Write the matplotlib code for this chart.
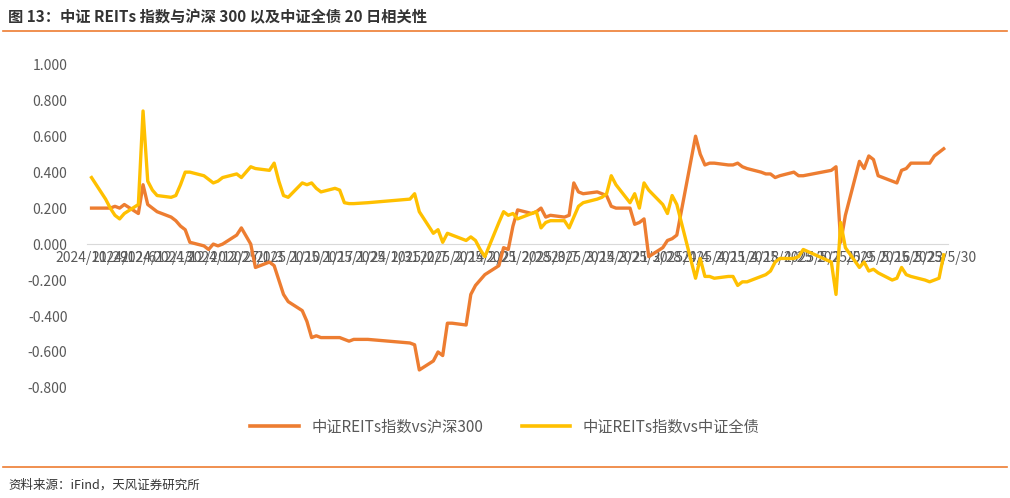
import matplotlib
matplotlib.use("Agg")
import matplotlib.pyplot as plt
import matplotlib.dates as mdates
import pandas as pd
from matplotlib.lines import Line2D

plt.rcParams['font.family'] = ['Noto Sans CJK SC', 'DejaVu Sans']

dates = ["2024-11-29","2024-12-02","2024-12-03","2024-12-04","2024-12-05","2024-12-06","2024-12-09","2024-12-10",
"2024-12-11","2024-12-12","2024-12-13","2024-12-16","2024-12-17","2024-12-18","2024-12-19","2024-12-20",
"2024-12-23","2024-12-24","2024-12-25","2024-12-26","2024-12-27","2024-12-30","2024-12-31",
"2025-01-02","2025-01-03","2025-01-06","2025-01-07","2025-01-08","2025-01-09","2025-01-10",
"2025-01-13","2025-01-14","2025-01-15","2025-01-16","2025-01-17","2025-01-20","2025-01-21","2025-01-22","2025-01-23","2025-01-24",
"2025-01-27","2025-02-05","2025-02-06","2025-02-07","2025-02-10","2025-02-11","2025-02-12","2025-02-13","2025-02-14",
"2025-02-17","2025-02-18","2025-02-19","2025-02-20","2025-02-21","2025-02-24","2025-02-25","2025-02-26","2025-02-27","2025-02-28",
"2025-03-03","2025-03-04","2025-03-05","2025-03-06","2025-03-07","2025-03-10","2025-03-11","2025-03-12","2025-03-13","2025-03-14",
"2025-03-17","2025-03-18","2025-03-19","2025-03-20","2025-03-21","2025-03-24","2025-03-25","2025-03-26","2025-03-27","2025-03-28",
"2025-03-31","2025-04-01","2025-04-02","2025-04-03","2025-04-07","2025-04-08","2025-04-09","2025-04-10","2025-04-11",
"2025-04-14","2025-04-15","2025-04-16","2025-04-17","2025-04-18","2025-04-21","2025-04-22","2025-04-23","2025-04-24","2025-04-25",
"2025-04-28","2025-04-29","2025-04-30","2025-05-06","2025-05-07","2025-05-08","2025-05-09",
"2025-05-12","2025-05-13","2025-05-14","2025-05-15","2025-05-16","2025-05-19","2025-05-20","2025-05-21","2025-05-22","2025-05-23",
"2025-05-26","2025-05-27","2025-05-28","2025-05-29","2025-05-30"]

reits_vs_hs300 = [0.20,0.20,0.20,0.21,0.20,0.22,0.17,0.33,
0.22,0.20,0.18,0.15,0.13,0.10,0.08,0.01,
-0.01,-0.03,0.00,-0.01,0.00,0.05,0.09,
0.00,-0.13,-0.10,-0.12,-0.20,-0.28,-0.32,
-0.37,-0.43,-0.52,-0.51,-0.52,-0.52,-0.52,-0.53,-0.54,-0.53,
-0.53,-0.55,-0.56,-0.70,-0.65,-0.60,-0.62,-0.44,-0.44,
-0.45,-0.28,-0.23,-0.20,-0.17,-0.12,-0.02,-0.03,0.10,0.19,
0.17,0.18,0.20,0.15,0.16,0.15,0.16,0.34,0.29,0.28,
0.29,0.28,0.27,0.21,0.20,0.20,0.11,0.12,0.14,-0.07,
-0.02,0.02,0.03,0.05,0.60,0.50,0.44,0.45,0.45,
0.44,0.44,0.45,0.43,0.42,0.40,0.39,0.39,0.37,0.38,
0.40,0.38,0.38,0.41,0.43,0.01,0.16,
0.46,0.42,0.49,0.47,0.38,0.35,0.34,0.41,0.42,0.45,
0.45,0.45,0.49,0.51,0.53]

reits_vs_bond = [0.37,0.25,0.20,0.16,0.14,0.17,0.22,0.74,
0.35,0.30,0.27,0.26,0.27,0.33,0.40,0.40,
0.38,0.36,0.34,0.35,0.37,0.39,0.37,
0.43,0.42,0.41,0.45,0.35,0.27,0.26,
0.34,0.33,0.34,0.31,0.29,0.31,0.30,0.23,0.225,0.225,
0.23,0.25,0.28,0.18,0.06,0.08,0.01,0.06,0.05,
0.02,0.04,0.02,-0.03,-0.07,0.12,0.18,0.16,0.17,0.14,
0.17,0.18,0.09,0.12,0.13,0.13,0.09,0.15,0.21,0.23,
0.25,0.26,0.28,0.38,0.33,0.23,0.28,0.20,0.34,0.30,
0.22,0.17,0.27,0.22,-0.19,-0.08,-0.18,-0.18,-0.19,
-0.18,-0.18,-0.23,-0.21,-0.21,-0.18,-0.17,-0.15,-0.10,-0.08,
-0.08,-0.07,-0.03,-0.10,-0.28,0.12,-0.02,
-0.13,-0.10,-0.15,-0.14,-0.16,-0.20,-0.19,-0.13,-0.17,-0.18,
-0.20,-0.21,-0.20,-0.19,-0.06]

series_names = ["中证REITs指数vs沪深300", "中证REITs指数vs中证全债"]
tick_dates = pd.date_range("2024-11-29", "2025-05-30", freq="7D")
y_ticks = [1.0, 0.8, 0.6, 0.4, 0.2, 0.0, -0.2, -0.4, -0.6, -0.8]

x = pd.to_datetime(dates)
fig = plt.figure(figsize=(10.10, 4.98), dpi=100)
ax = fig.add_axes([0.086, 0.221, 0.853, 0.650])
c1, c2 = "#ED7D31", "#FFC000"
ax.plot(x, reits_vs_hs300, color=c1, lw=2.4, solid_joinstyle="round", zorder=3)
ax.plot(x, reits_vs_bond, color=c2, lw=2.4, solid_joinstyle="round", zorder=3)

ax.set_ylim(-0.8, 1.0)
ax.set_xlim(tick_dates[0] - pd.Timedelta(days=1), tick_dates[-1] + pd.Timedelta(days=1))
ax.set_yticks(y_ticks)
ax.set_yticklabels([f"{v:.3f}" for v in y_ticks])
ax.set_xticks(tick_dates)
ax.set_xticklabels([f"{d.year}/{d.month}/{d.day}" for d in tick_dates], rotation=90)
for s in ["top", "right", "left"]:
    ax.spines[s].set_visible(False)
ax.spines["bottom"].set_position(("data", 0))
ax.spines["bottom"].set_color("#D9D9D9")
ax.tick_params(axis="both", length=0, colors="#595959", labelsize=10)
ax.tick_params(axis="y", pad=14)
ax.tick_params(axis="x", pad=5)

handles = [Line2D([], [], color=c1, lw=2.6), Line2D([], [], color=c2, lw=2.6)]
fig.legend(handles, series_names, loc="center", bbox_to_anchor=(0.5, 0.143), ncol=2,
           frameon=False, fontsize=11, labelcolor="#595959", handlelength=3.2, columnspacing=2.5)

fig.text(0.008, 0.965, "图 13：中证 REITs 指数与沪深 300 以及中证全债 20 日相关性",
         fontsize=11, fontweight="bold", color="#333333", va="center")
fig.add_artist(Line2D([0.003, 0.997], [0.937, 0.937], color="#ED7D31", lw=1.2))
fig.add_artist(Line2D([0.003, 0.997], [0.062, 0.062], color="#ED7D31", lw=1.2))
fig.text(0.008, 0.025, "资料来源：iFind，天风证券研究所", fontsize=9, color="#333333", va="center")

fig.savefig("out.png", dpi=100)
